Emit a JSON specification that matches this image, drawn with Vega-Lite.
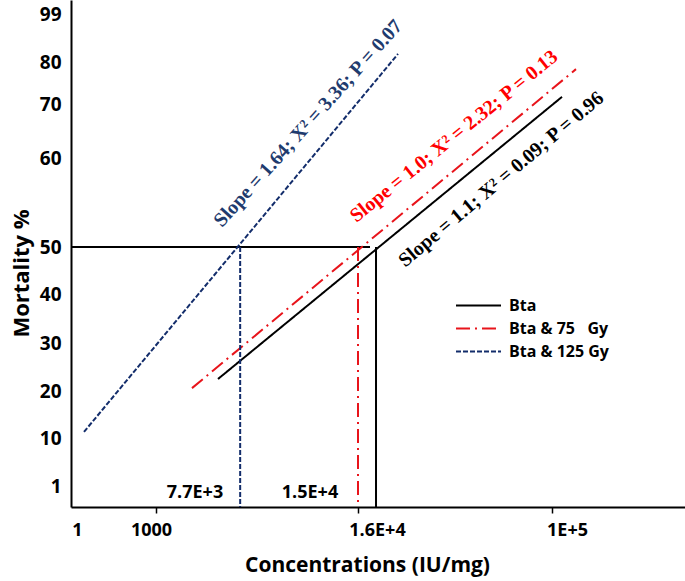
{
  "$schema": "https://vega.github.io/schema/vega-lite/v6.json",
  "width": 614,
  "height": 507,
  "autosize": {"type": "none"},
  "padding": {"left": 71, "top": 0, "right": 0, "bottom": 74},
  "background": "white",
  "config": {
    "view": {"stroke": null},
    "font": "Open Sans",
    "axis": {
      "grid": false,
      "domainColor": "black",
      "domainWidth": 2,
      "labelColor": "black",
      "titleColor": "black",
      "labelFont": "Open Sans",
      "labelFontWeight": "bold",
      "titleFont": "Open Sans",
      "titleFontWeight": "bold"
    }
  },
  "datasets": {
    "lines": [
      {"series": "Bta", "part": "fit", "x": 5604, "y": 22.5},
      {"series": "Bta", "part": "fit", "x": 115038, "y": 71.7},
      {"series": "Bta", "part": "drop", "x": 23800, "y": 50},
      {"series": "Bta", "part": "drop", "x": 23800, "y": 0},
      {"series": "Bta & 75\u00a0\u00a0 Gy", "part": "fit", "x": 3673, "y": 20.6},
      {"series": "Bta & 75\u00a0\u00a0 Gy", "part": "fit", "x": 136090, "y": 78.3},
      {"series": "Bta & 75\u00a0\u00a0 Gy", "part": "drop", "x": 16000, "y": 50},
      {"series": "Bta & 75\u00a0\u00a0 Gy", "part": "drop", "x": 16000, "y": 0},
      {"series": "Bta & 125 Gy", "part": "fit", "x": 89.5, "y": 11.3},
      {"series": "Bta & 125 Gy", "part": "fit", "x": 33320, "y": 83.2},
      {"series": "Bta & 125 Gy", "part": "drop", "x": 7250, "y": 50},
      {"series": "Bta & 125 Gy", "part": "drop", "x": 7250, "y": 0}
    ],
    "ref": [
      {"x": 0, "y": 50},
      {"x": 21196, "y": 50}
    ],
    "notes": [
      {"key": "blue", "text": "Slope = 1.64; X² = 3.36; P = 0.07", "x": 12300, "y": 66.4},
      {"key": "red", "text": "Slope = 1.0; X² = 2.32; P = 0.13", "x": 57567, "y": 64.0},
      {"key": "black", "text": "Slope = 1.1; X² = 0.09; P = 0.96", "x": 78000, "y": 57.6},
      {"key": "inner", "text": "7.7E+3", "x": 3896, "y": 0.67},
      {"key": "inner", "text": "1.5E+4", "x": 12436, "y": 0.67}
    ]
  },
  "layer": [
    {
      "data": {"name": "ref"},
      "mark": {"type": "line", "color": "black", "strokeWidth": 2},
      "encoding": {
        "x": {
          "field": "x",
          "type": "quantitative",
          "scale": {"domain": [0, 1, 1000, 16000, 100000, 300000], "range": [0, 6, 85, 287, 481, 614], "zero": false, "nice": false},
          "axis": {
            "values": [1, 1000, 16000, 100000],
            "labelExpr": "datum.value == 1 ? '1' : datum.value == 1000 ? '1000' : datum.value == 16000 ? '1.6E+4' : '1E+5'",
            "labelFontSize": 18,
            "labelPadding": 8,
            "labelFlush": false,
            "labelOverlap": false,
            "labelOffset": {"condition": [{"test": "datum.value == 16000", "value": 19}, {"test": "datum.value == 100000", "value": 15}, {"test": "datum.value == 1000", "value": -5}], "value": 0},
            "tickSize": 6,
            "tickWidth": 1.5,
            "tickColor": "black",
            "tickOpacity": {"condition": {"test": "datum.value == 1", "value": 0}, "value": 1},
            "title": "Concentrations (IU/mg)",
            "titleFontSize": 21,
            "titleX": 296,
            "titleY": 58,
            "titleBaseline": "middle"
          }
        },
        "y": {
          "field": "y",
          "type": "quantitative",
          "scale": {"domain": [0, 1, 10, 20, 30, 40, 50, 60, 70, 80, 99, 100], "range": [507, 486, 438, 391, 343, 294, 247, 158, 104, 62, 14, 0], "zero": false, "nice": false},
          "axis": {
            "values": [1, 10, 20, 30, 40, 50, 60, 70, 80, 99],
            "ticks": false,
            "labelFontSize": 19,
            "labelPadding": 10,
            "title": "Mortality %",
            "titleFontSize": 22,
            "titleX": -50,
            "titleY": 273,
            "titleBaseline": "middle"
          }
        }
      }
    },
    {
      "data": {"name": "lines"},
      "mark": {"type": "line", "strokeWidth": 2},
      "encoding": {
        "x": {"field": "x", "type": "quantitative"},
        "y": {"field": "y", "type": "quantitative"},
        "detail": {"field": "part"},
        "color": {
          "field": "series",
          "type": "nominal",
          "scale": {"domain": ["Bta", "Bta & 75\u00a0\u00a0 Gy", "Bta & 125 Gy"], "range": ["#000000", "#E8141B", "#132D6B"]},
          "legend": {
            "title": null,
            "orient": "none",
            "legendX": 384,
            "legendY": 295,
            "symbolType": "stroke",
            "symbolSize": 2025,
            "symbolStrokeWidth": 2,
            "clipHeight": 21,
            "rowPadding": 2,
            "labelFont": "Open Sans",
            "labelFontWeight": "bold",
            "labelFontSize": 16,
            "labelColor": "black",
            "labelOffset": 7
          }
        },
        "strokeDash": {
          "field": "series",
          "type": "nominal",
          "scale": {"domain": ["Bta", "Bta & 75\u00a0\u00a0 Gy", "Bta & 125 Gy"], "range": [[1, 0], [14, 5, 2, 5], [5, 2]]},
          "legend": null
        }
      }
    },
    {
      "data": {"name": "notes"},
      "transform": [{"filter": "datum.key == 'blue'"}],
      "mark": {"type": "text", "angle": -48, "font": "Liberation Serif", "fontWeight": "bold", "fontSize": 20, "color": "#1F3B6E", "align": "center", "baseline": "middle"},
      "encoding": {
        "x": {"field": "x", "type": "quantitative"},
        "y": {"field": "y", "type": "quantitative"},
        "text": {"field": "text"}
      }
    },
    {
      "data": {"name": "notes"},
      "transform": [{"filter": "datum.key == 'red'"}],
      "mark": {"type": "text", "angle": -39, "font": "Liberation Serif", "fontWeight": "bold", "fontSize": 20, "color": "#FF0000", "align": "center", "baseline": "middle"},
      "encoding": {
        "x": {"field": "x", "type": "quantitative"},
        "y": {"field": "y", "type": "quantitative"},
        "text": {"field": "text"}
      }
    },
    {
      "data": {"name": "notes"},
      "transform": [{"filter": "datum.key == 'black'"}],
      "mark": {"type": "text", "angle": -40, "font": "Liberation Serif", "fontWeight": "bold", "fontSize": 20, "color": "#000000", "align": "center", "baseline": "middle"},
      "encoding": {
        "x": {"field": "x", "type": "quantitative"},
        "y": {"field": "y", "type": "quantitative"},
        "text": {"field": "text"}
      }
    },
    {
      "data": {"name": "notes"},
      "transform": [{"filter": "datum.key == 'inner'"}],
      "mark": {"type": "text", "font": "Open Sans", "fontWeight": "bold", "fontSize": 18, "color": "#000000", "align": "center", "baseline": "middle"},
      "encoding": {
        "x": {"field": "x", "type": "quantitative"},
        "y": {"field": "y", "type": "quantitative"},
        "text": {"field": "text"}
      }
    }
  ]
}
